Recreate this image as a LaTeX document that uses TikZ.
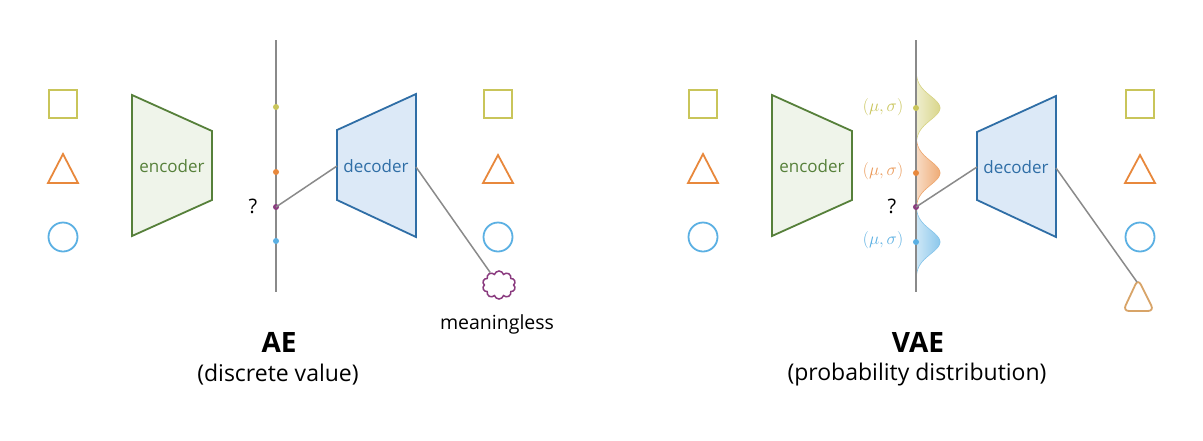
\documentclass[tikz,border=0pt]{standalone}
\usepackage{fontspec}
\setmainfont{Open Sans}
\usetikzlibrary{shapes.geometric,shapes.symbols}
\definecolor{cy}{HTML}{C9C55A}
\definecolor{co}{HTML}{E8883C}
\definecolor{cb}{HTML}{5BB0E3}
\definecolor{cp}{HTML}{8A3B7F}
\definecolor{cgs}{HTML}{56803A}
\definecolor{cgf}{HTML}{EFF4EA}
\definecolor{cbs}{HTML}{2F6EA6}
\definecolor{cbf}{HTML}{DCE9F7}
\definecolor{cl}{HTML}{8A8A8A}
\definecolor{ct}{HTML}{D8A468}
\begin{document}
\begin{tikzpicture}[x=1pt,y=-1pt,
  shp/.style={line width=1.8pt},
  sq/.style={shp,draw=cy,minimum size=28pt,inner sep=0pt},
  circ/.style={shp,draw=cb,circle,minimum size=29pt,inner sep=0pt},
  axis/.style={draw=cl,line width=1.5pt},
  link/.style={draw=cl,line width=1.5pt},
  dot/.style={circle,fill=#1,minimum size=6pt,inner sep=0pt},
  enc/.style={draw=cgs,fill=cgf,line width=1.8pt,line join=miter},
  dec/.style={draw=cbs,fill=cbf,line width=1.8pt,line join=miter},
  lbl/.style={font=\fontsize{17}{20}\selectfont},
  qm/.style={font=\fontsize{20}{24}\selectfont},
  mu/.style={font=\fontsize{17}{20}\selectfont},
  title/.style={font=\fontsize{28}{32}\selectfont\bfseries},
  sub/.style={font=\fontsize{23}{27}\selectfont},
  gauss/.style={left color=#1!30,right color=#1!70,draw=#1!75,line width=0.6pt}
]
\useasboundingbox (0,0) rectangle (1203,440);
\fill[white] (0,0) rectangle (1203,440);

% ================= AE =================
\node[sq] (aS) at (63,104) {};
\draw[shp,draw=co,line join=miter] (63,154) -- (78,183) -- (48,183) -- cycle;
\node[circ] (aC) at (63,237) {};

\draw[enc] (132,95) -- (212,131) -- (212,200) -- (132,236) -- cycle;
\node[lbl,text=cgs] (aEnc) at (172,166) {encoder};

\coordinate (aTop) at (276,40);
\coordinate (aBot) at (276,292);
\draw[axis] (aTop) -- (aBot);
\node[dot=cy] (aDy) at (276,107) {};
\node[dot=co] (aDo) at (276,172) {};
\node[dot=cp] (aDp) at (276,207) {};
\node[dot=cb] (aDb) at (276,241) {};
\node[qm,text=black] (aQ) at (253,206) {?};

\draw[dec] (337,130) -- (416,94) -- (416,237) -- (337,200) -- cycle;
\coordinate (aDecL) at (337,166);
\coordinate (aDecR) at (416,167);
\node[lbl,text=cbs] (aDec) at (376,166) {decoder};

\node[sq] (aS2) at (498,104) {};
\draw[shp,draw=co,line join=miter] (498,155) -- (513,183) -- (483,183) -- cycle;
\node[circ] (aC2) at (498,237) {};

\node[cloud,cloud puffs=10,aspect=1.15,draw=cp,line width=1.5pt,minimum width=33pt,minimum height=28pt,inner sep=0pt] (cloud) at (499,285) {};
\node[font=\fontsize{19.5}{23}\selectfont] (mean) at (497,324) {meaningless};

\draw[link] (aDp.center) -- (aDecL);
\draw[link] (aDecR) -- (cloud);

\node[title] (ae) at (279,342) {AE};
\node[sub] (aesub) at (278,375) {(discrete value)};

% ================= VAE =================
\node[sq] (vS) at (703,104) {};
\draw[shp,draw=co,line join=miter] (703,154) -- (718,183) -- (688,183) -- cycle;
\node[circ] (vC) at (703,237) {};

\draw[enc] (772,95) -- (852,131) -- (852,200) -- (772,236) -- cycle;
\node[lbl,text=cgs] (vEnc) at (812,166) {encoder};

% gaussians
\shade[gauss=cy]
  plot[domain=-36:36,variable=\t,samples=60,smooth] ({916+24*exp(-((\t/12)^2)/2)},{108+\t}) -- cycle;
\shade[gauss=co]
  plot[domain=-36:36,variable=\t,samples=60,smooth] ({916+24*exp(-((\t/12)^2)/2)},{173+\t}) -- cycle;
\shade[gauss=cb]
  plot[domain=-36:36,variable=\t,samples=60,smooth] ({916+24*exp(-((\t/12)^2)/2)},{242+\t}) -- cycle;

\coordinate (vTop) at (916,40);
\coordinate (vBot) at (916,292);
\draw[axis] (vTop) -- (vBot);
\node[dot=cy] (vDy) at (916,108) {};
\node[dot=co] (vDo) at (916,173) {};
\node[dot=cp] (vDp) at (916,207) {};
\node[dot=cb] (vDb) at (916,242) {};
\node[qm,text=black] (vQ) at (892,206) {?};

\node[mu,text=cy] (mu1) at (883,107) {$(\mu,\sigma)$};
\node[mu,text=co!85] (mu2) at (883,171) {$(\mu,\sigma)$};
\node[mu,text=cb] (mu3) at (883,240) {$(\mu,\sigma)$};

\draw[dec] (977,132) -- (1056,96) -- (1056,237) -- (977,200) -- cycle;
\coordinate (vDecL) at (977,167);
\coordinate (vDecR) at (1056,168);
\node[lbl,text=cbs] (vDec) at (1016,167) {decoder};

\node[sq] (vS2) at (1140,104) {};
\draw[shp,draw=co,line join=miter] (1140,155) -- (1155,183) -- (1125,183) -- cycle;
\node[circ] (vC2) at (1140,237) {};

\draw[shp,draw=ct,rounded corners=6pt] (1138,279) -- (1154,311) -- (1123,311) -- cycle;
\coordinate (triTop) at (1137,282);

\draw[link] (vDp.center) -- (vDecL);
\draw[link] (vDecR) -- (triTop);

\node[title] (vae) at (918,342) {VAE};
\node[sub] (vaesub) at (917,375) {(probability distribution)};
\end{tikzpicture}
\end{document}
